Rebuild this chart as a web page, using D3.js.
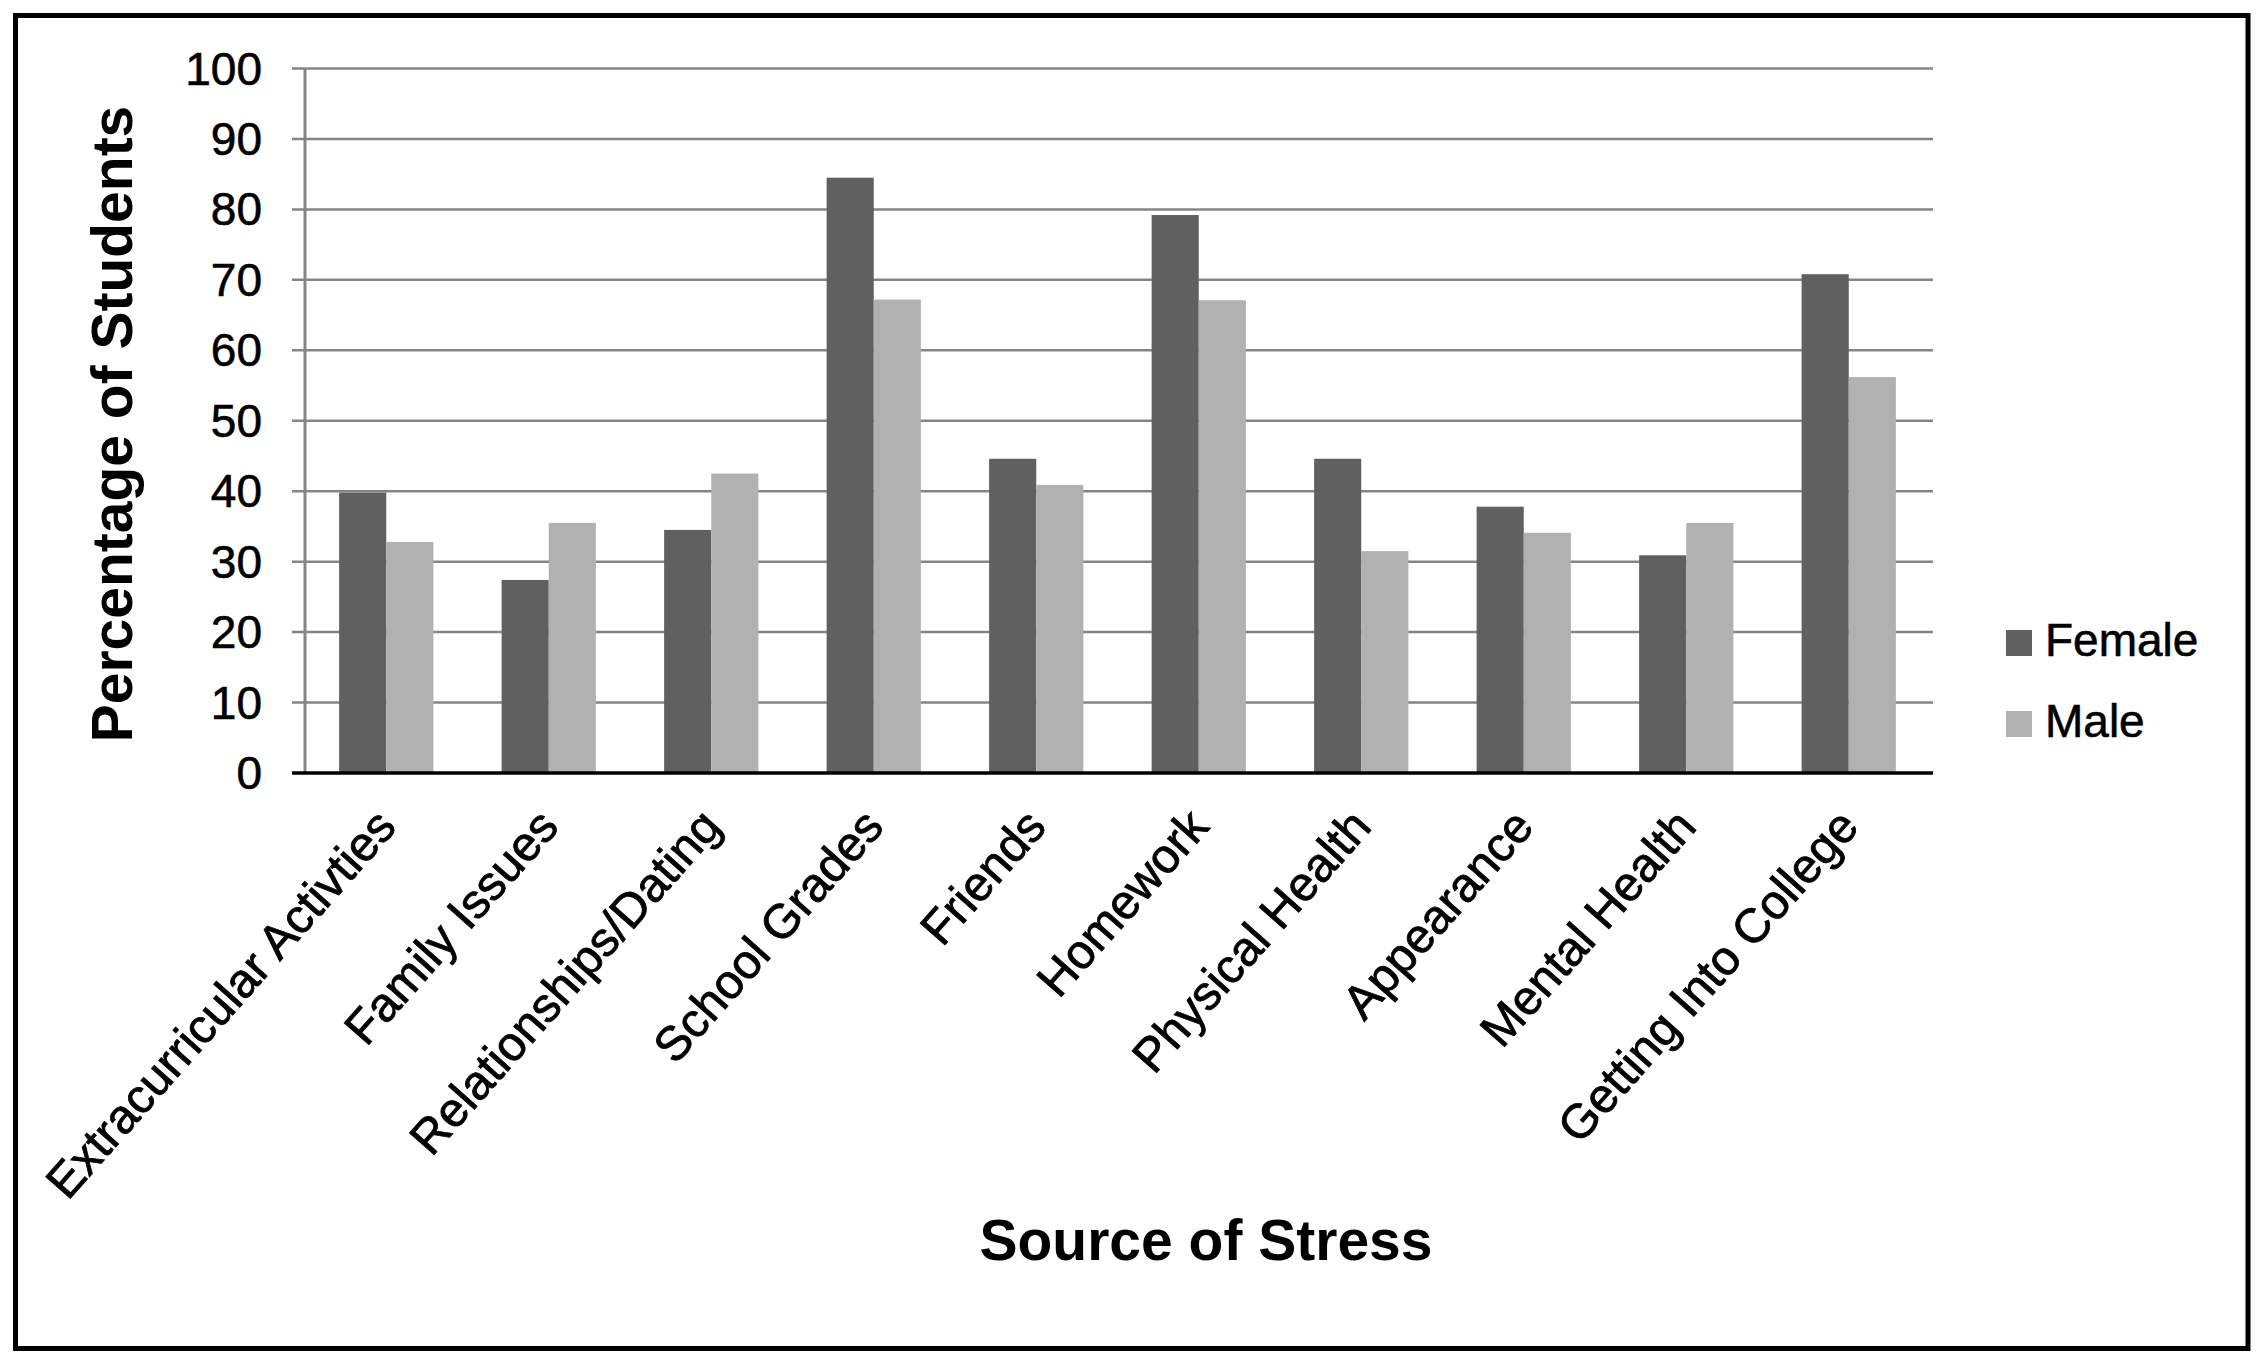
<!DOCTYPE html>
<html>
<head>
<meta charset="utf-8">
<script src="https://cdn.jsdelivr.net/npm/d3@7"></script>
<style>
  html, body { margin: 0; padding: 0; background: #fff; }
  svg { display: block; font-family: "Liberation Sans", Arial, sans-serif; }
</style>
</head>
<body>
<svg id="chart" width="2263" height="1370"></svg>
<script>
const categories = ["Extracurricular Activties", "Family Issues", "Relationships/Dating", "School Grades", "Friends", "Homework", "Physical Health", "Appearance", "Mental Health", "Getting Into College"];
const seriesNames = ["Female", "Male"];
const femaleValues = [39.8, 27.4, 34.5, 84.5, 44.6, 79.2, 44.6, 37.8, 30.9, 70.8];
const maleValues = [32.8, 35.5, 42.5, 67.2, 40.9, 67.1, 31.5, 34.1, 35.5, 56.2];
const yTicks = [0, 10, 20, 30, 40, 50, 60, 70, 80, 90, 100];
const seriesColors = ["#606060", "#b1b1b1"];

const svg = d3.select("#chart");
const W = 2263, H = 1370;
svg.append("rect").attr("width", W).attr("height", H).attr("fill", "#fff");

// outer frame
svg.append("rect")
  .attr("x", 15.5).attr("y", 15.5)
  .attr("width", 2248 - 15.5).attr("height", 1348.5 - 15.5)
  .attr("fill", "none").attr("stroke", "#000").attr("stroke-width", 5);

const plot = { left: 305, right: 1930, top: 68.5, bottom: 773 };

const x0 = d3.scaleBand().domain(categories)
  .range([plot.left, plot.right]).paddingInner(0.42).paddingOuter(0.21);
const x1 = d3.scaleBand().domain(seriesNames).range([0, x0.bandwidth()]).padding(0);
const y = d3.scaleLinear().domain([0, 100]).range([plot.bottom, plot.top]);
const color = d3.scaleOrdinal().domain(seriesNames).range(seriesColors);

// gridlines + y ticks
const gAxisY = svg.append("g");
gAxisY.selectAll("line.grid").data(yTicks.filter(d => d > 0)).enter().append("line")
  .attr("class", "grid")
  .attr("x1", plot.left - 13).attr("x2", plot.right + 3)
  .attr("y1", d => y(d)).attr("y2", d => y(d))
  .attr("stroke", "#858585").attr("stroke-width", 2.5);

gAxisY.selectAll("text").data(yTicks).enter().append("text")
  .attr("x", 262).attr("y", d => y(d))
  .attr("text-anchor", "end").attr("dominant-baseline", "central")
  .attr("font-size", 46).attr("fill", "#000")
  .attr("stroke", "#000").attr("stroke-width", 0.6)
  .text(d => d);

// y axis line
svg.append("line")
  .attr("x1", plot.left).attr("x2", plot.left)
  .attr("y1", plot.top).attr("y2", plot.bottom)
  .attr("stroke", "#858585").attr("stroke-width", 3);

// bars
const data = categories.map((c, i) => ({ cat: c, vals: [femaleValues[i], maleValues[i]] }));
const groups = svg.append("g").selectAll("g").data(data).enter().append("g")
  .attr("transform", d => `translate(${x0(d.cat)},0)`);
groups.selectAll("rect").data(d => d.vals.map((v, j) => ({ s: seriesNames[j], v }))).enter().append("rect")
  .attr("x", d => x1(d.s))
  .attr("y", d => y(d.v))
  .attr("width", x1.bandwidth())
  .attr("height", d => y(0) - y(d.v))
  .attr("fill", d => color(d.s));

// x axis baseline
svg.append("line")
  .attr("x1", plot.left - 13).attr("x2", plot.right + 3)
  .attr("y1", plot.bottom).attr("y2", plot.bottom)
  .attr("stroke", "#000").attr("stroke-width", 3.5);

// category labels
svg.append("g").selectAll("text").data(categories).enter().append("text")
  .attr("transform", d => `translate(${x0(d) + x0.bandwidth() / 2 + 12},828) rotate(-48.5)`)
  .attr("text-anchor", "end")
  .attr("font-size", 48).attr("fill", "#000")
  .attr("stroke", "#000").attr("stroke-width", 0.8)
  .text(d => d);

// axis titles
svg.append("text")
  .attr("transform", "translate(132,424) rotate(-90)")
  .attr("text-anchor", "middle")
  .attr("font-size", 57).attr("font-weight", "bold").attr("fill", "#000")
  .text("Percentage of Students");

svg.append("text")
  .attr("x", 1206).attr("y", 1260)
  .attr("text-anchor", "middle")
  .attr("font-size", 57).attr("font-weight", "bold").attr("fill", "#000")
  .text("Source of Stress");

// legend
const legend = svg.append("g").selectAll("g").data(seriesNames).enter().append("g")
  .attr("transform", (d, i) => `translate(2006,${630 + i * 81})`);
legend.append("rect").attr("width", 26).attr("height", 26).attr("fill", d => color(d));
legend.append("text").attr("x", 39).attr("y", 26)
  .attr("font-size", 46).attr("fill", "#000")
  .attr("stroke", "#000").attr("stroke-width", 0.6)
  .text(d => d);
</script>
</body>
</html>
